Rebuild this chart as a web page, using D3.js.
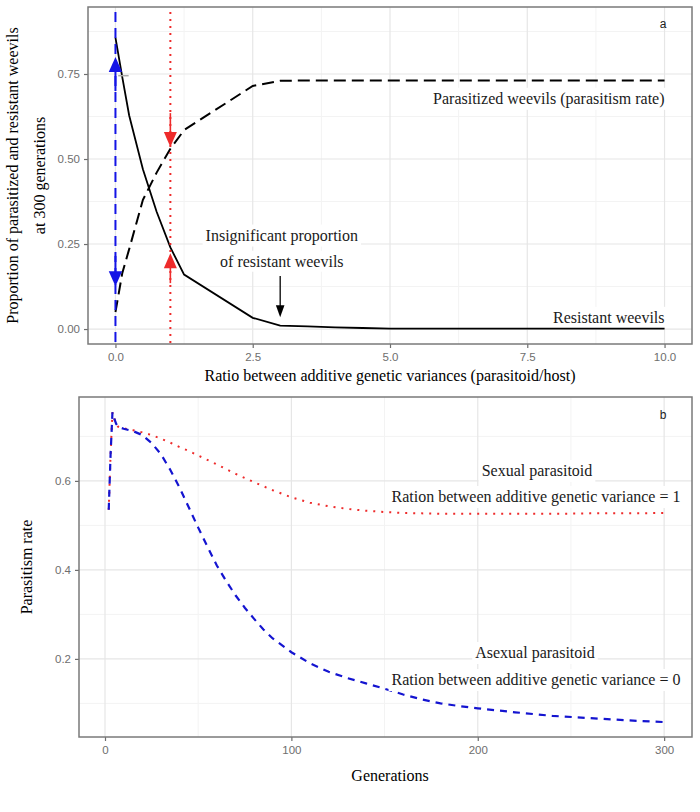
<!DOCTYPE html>
<html><head><meta charset="utf-8">
<script src="https://cdn.jsdelivr.net/npm/d3@7"></script>
<style>
body{margin:0;background:#fff;}
svg{display:block;}
</style></head>
<body>
<svg id="chart" width="700" height="812"></svg>
<script>
// ---------- Panel a data ----------
const ratioX = [0, 0.125, 0.25, 0.5, 0.75, 1, 1.25, 2.5, 3, 3.5, 4, 4.5, 5, 6, 7, 8, 9, 10];
const resistant = [0.857, 0.74, 0.628, 0.47, 0.345, 0.24, 0.16, 0.033, 0.01, 0.008, 0.005, 0.003, 0.001, 0.001, 0.001, 0.001, 0.001, 0.001];
const parasitized = [0.05, 0.165, 0.235, 0.38, 0.46, 0.53, 0.585, 0.715, 0.73, 0.731, 0.731, 0.731, 0.731, 0.731, 0.731, 0.731, 0.731, 0.731];
const aXTicks = [0, 2.5, 5, 7.5, 10];
const aXTickLabels = ["0.0", "2.5", "5.0", "7.5", "10.0"];
const aYTicks = [0, 0.25, 0.5, 0.75];
const aYTickLabels = ["0.00", "0.25", "0.50", "0.75"];
const aVLines = [0, 1];
// arrows: [x, yFrom, yTo]
const blueArrows = [[0, 0.70, 0.80], [0, 0.215, 0.126]];
const redArrows = [[1, 0.635, 0.535], [1, 0.135, 0.223]];
const blackArrow = [3, 0.156, 0.035];

// ---------- Panel b data ----------
const gensSexual = [2, 3, 4, 5, 6, 7, 8, 10, 15, 20, 25, 30, 35, 40, 45, 50, 60, 70, 80, 90, 100, 110, 120, 130, 140, 150, 160, 170, 180, 200, 220, 240, 260, 280, 300];
const sexual = [0.535, 0.66, 0.754, 0.74, 0.728, 0.722, 0.72, 0.718, 0.714, 0.709, 0.703, 0.695, 0.686, 0.676, 0.667, 0.657, 0.637, 0.616, 0.597, 0.579, 0.563, 0.551, 0.543, 0.537, 0.533, 0.530, 0.528, 0.527, 0.526, 0.526, 0.526, 0.526, 0.527, 0.527, 0.528];
const gensAsexual = [2, 3, 4, 5, 6, 7, 8, 10, 15, 20, 25, 30, 35, 40, 45, 50, 55, 60, 65, 70, 75, 80, 85, 90, 100, 110, 120, 130, 140, 150, 160, 170, 180, 190, 200, 220, 240, 260, 280, 300];
const asexual = [0.535, 0.66, 0.754, 0.74, 0.728, 0.722, 0.72, 0.717, 0.712, 0.703, 0.685, 0.66, 0.625, 0.585, 0.54, 0.495, 0.452, 0.41, 0.375, 0.343, 0.315, 0.29, 0.266, 0.246, 0.215, 0.19, 0.171, 0.157, 0.145, 0.133, 0.12, 0.109, 0.1, 0.094, 0.089, 0.08, 0.072, 0.067, 0.062, 0.058];
const bXTicks = [0, 100, 200, 300];
const bYTicks = [0.2, 0.4, 0.6];
const bYTickLabels = ["0.2", "0.4", "0.6"];

const svg = d3.select("#chart");
const SERIF = "'Liberation Serif','Times New Roman',serif";
const SANS = "'Liberation Sans',Arial,sans-serif";
const tickCol = "#6e6e6e";
const borderCol = "#7a7a7a";
const FS = "16px";

function panel(cfg) {
  const g = svg.append("g");
  const x = d3.scaleLinear().domain(cfg.xDomain).range([cfg.left, cfg.right]);
  const y = d3.scaleLinear().domain(cfg.yDomain).range([cfg.bottom, cfg.top]);
  cfg.xMinor.forEach(v => g.append("line").attr("x1", x(v)).attr("x2", x(v)).attr("y1", cfg.top).attr("y2", cfg.bottom).attr("stroke", "#f3f3f3").attr("stroke-width", 1));
  cfg.yMinor.forEach(v => g.append("line").attr("y1", y(v)).attr("y2", y(v)).attr("x1", cfg.left).attr("x2", cfg.right).attr("stroke", "#f3f3f3").attr("stroke-width", 1));
  cfg.xTicks.forEach(v => g.append("line").attr("x1", x(v)).attr("x2", x(v)).attr("y1", cfg.top).attr("y2", cfg.bottom).attr("stroke", "#e6e6e6").attr("stroke-width", 1.2));
  cfg.yTicks.forEach(v => g.append("line").attr("y1", y(v)).attr("y2", y(v)).attr("x1", cfg.left).attr("x2", cfg.right).attr("stroke", "#e6e6e6").attr("stroke-width", 1.2));
  const xAxis = d3.axisBottom(x).tickValues(cfg.xTicks).tickSize(4).tickPadding(5).tickFormat((d, i) => cfg.xLabels[i]);
  const yAxis = d3.axisLeft(y).tickValues(cfg.yTicks).tickSize(4).tickPadding(4).tickFormat((d, i) => cfg.yLabels[i]);
  const gx = g.append("g").attr("transform", `translate(0,${cfg.bottom})`).call(xAxis);
  const gy = g.append("g").attr("transform", `translate(${cfg.left},0)`).call(yAxis);
  [gx, gy].forEach(a => {
    a.select(".domain").remove();
    a.selectAll(".tick line").attr("stroke", tickCol).attr("stroke-width", 1.2);
    a.selectAll(".tick text").attr("fill", tickCol).style("font-family", SANS).style("font-size", "11.5px");
  });
  return {g, x, y};
}

// ===== Panel a =====
const A = panel({
  left: 88, right: 692, top: 7, bottom: 344,
  xDomain: [-0.5, 10.5], yDomain: [-0.044, 0.947],
  xTicks: aXTicks, xLabels: aXTickLabels, xMinor: [1.25, 3.75, 6.25, 8.75],
  yTicks: aYTicks, yLabels: aYTickLabels, yMinor: [0.125, 0.375, 0.625, 0.875]
});
{
  const {g, x, y} = A;
  const line = d3.line().x(d => x(d[0])).y(d => y(d[1]));
  function label(txt, px, py, anchor) {
    const t = g.append("text").attr("x", px).attr("y", py).attr("text-anchor", anchor)
      .style("font-family", SERIF).style("font-size", FS).attr("fill", "#1a1a1a").text(txt);
    const bb = t.node().getBBox();
    g.insert("rect", function(){ return t.node(); }).attr("x", bb.x - 3).attr("y", bb.y - 2).attr("width", bb.width + 6).attr("height", bb.height + 4).attr("fill", "#fff");
  }
  label("Insignificant proportion", x(3.03), y(0.272) + 4, "middle");
  label("of resistant weevils", x(3.03), y(0.195) + 4, "middle");
  label("Parasitized weevils (parasitism rate)", x(10), y(0.677) + 5, "end");
  label("Resistant weevils", x(10), y(0.03) + 4, "end");

  g.append("path").datum(ratioX.map((v, i) => [v, parasitized[i]])).attr("d", line)
    .attr("fill", "none").attr("stroke", "#000").attr("stroke-width", 2).attr("stroke-dasharray", "12,6");
  g.append("path").datum(ratioX.map((v, i) => [v, resistant[i]])).attr("d", line)
    .attr("fill", "none").attr("stroke", "#000").attr("stroke-width", 1.8);

  g.append("line").attr("x1", x(aVLines[0])).attr("x2", x(aVLines[0])).attr("y1", 12).attr("y2", 347)
    .attr("stroke", "#1414e6").attr("stroke-width", 2).attr("stroke-dasharray", "10,6");
  g.append("line").attr("x1", x(aVLines[1])).attr("x2", x(aVLines[1])).attr("y1", 12).attr("y2", 347)
    .attr("stroke", "#ee2b2b").attr("stroke-width", 2).attr("stroke-dasharray", "2,5");

  function arrow(a, col, len, hw, sw) {
    const px = x(a[0]), y0 = y(a[1]), y1 = y(a[2]);
    const dir = y1 > y0 ? 1 : -1;
    g.append("line").attr("x1", px).attr("x2", px).attr("y1", y0).attr("y2", y1 - dir * len * 0.5)
      .attr("stroke", col).attr("stroke-width", sw);
    g.append("path").attr("d", `M${px},${y1} L${px - hw},${y1 - dir * len} L${px + hw},${y1 - dir * len} Z`).attr("fill", col);
  }
  blueArrows.forEach(a => arrow(a, "#1414e6", 15, 6.7, 2));
  redArrows.forEach(a => arrow(a, "#ee2b2b", 15, 6.5, 1.6));
  arrow(blackArrow, "#000", 12, 4.3, 1.3);

  g.append("line").attr("x1", x(0.05)).attr("x2", x(0.24)).attr("y1", y(0.745)).attr("y2", y(0.745)).attr("stroke", "#aaa").attr("stroke-width", 1.5);

  g.append("text").attr("x", 663).attr("y", 28).attr("text-anchor", "middle").style("font-family", SANS).style("font-size", "12px").attr("fill", "#222").text("a");

  g.append("rect").attr("x", 88).attr("y", 7).attr("width", 604).attr("height", 337).attr("fill", "none").attr("stroke", borderCol).attr("stroke-width", 1.5);

  g.append("text").attr("x", 390).attr("y", 381).attr("text-anchor", "middle").style("font-family", SERIF).style("font-size", FS).attr("fill", "#000")
    .text("Ratio between additive genetic variances (parasitoid/host)");
  g.append("text").attr("transform", "translate(18,175.5) rotate(-90)").attr("text-anchor", "middle").style("font-family", SERIF).style("font-size", FS).attr("fill", "#000")
    .text("Proportion of parasitized and resistant weevils");
  g.append("text").attr("transform", "translate(45,175.5) rotate(-90)").attr("text-anchor", "middle").style("font-family", SERIF).style("font-size", FS).attr("fill", "#000")
    .text("at 300 generations");
}

// ===== Panel b =====
const B = panel({
  left: 79, right: 692, top: 397, bottom: 737,
  xDomain: [1 - 14.95, 300 + 14.95], yDomain: [0.0245, 0.7885],
  xTicks: bXTicks, xLabels: bXTicks.map(String), xMinor: [50, 150, 250],
  yTicks: bYTicks, yLabels: bYTickLabels, yMinor: [0.1, 0.3, 0.5, 0.7]
});
{
  const {g, x, y} = B;
  const line = d3.line().x(d => x(d[0])).y(d => y(d[1]));
  function label(txt, px, py) {
    const t = g.append("text").attr("x", px).attr("y", py).attr("text-anchor", "middle")
      .style("font-family", SERIF).style("font-size", FS).attr("fill", "#1a1a1a").text(txt);
    const bb = t.node().getBBox();
    g.insert("rect", function(){ return t.node(); }).attr("x", bb.x - 3).attr("y", bb.y - 2).attr("width", bb.width + 6).attr("height", bb.height + 4).attr("fill", "#fff");
  }
  g.append("path").datum(gensSexual.map((v, i) => [v, sexual[i]])).attr("d", line)
    .attr("fill", "none").attr("stroke", "#ee2b2b").attr("stroke-width", 2).attr("stroke-dasharray", "2,6");
  g.append("path").datum(gensAsexual.map((v, i) => [v, asexual[i]])).attr("d", line)
    .attr("fill", "none").attr("stroke", "#1414d0").attr("stroke-width", 2.2).attr("stroke-dasharray", "7,6");

  label("Sexual parasitoid", 537, 476);
  label("Ration between additive genetic variance = 1", 536, 502);
  label("Asexual parasitoid", 535, 658);
  label("Ration between additive genetic variance = 0", 536, 685);

  g.append("text").attr("x", 663).attr("y", 419).attr("text-anchor", "middle").style("font-family", SANS).style("font-size", "12px").attr("fill", "#222").text("b");

  g.append("rect").attr("x", 79).attr("y", 397).attr("width", 613).attr("height", 340).attr("fill", "none").attr("stroke", borderCol).attr("stroke-width", 1.5);

  g.append("text").attr("x", 390).attr("y", 781).attr("text-anchor", "middle").style("font-family", SERIF).style("font-size", FS).attr("fill", "#000").text("Generations");
  g.append("text").attr("transform", "translate(32,567) rotate(-90)").attr("text-anchor", "middle").style("font-family", SERIF).style("font-size", FS).attr("fill", "#000").text("Parasitism rate");
}
</script>
</body></html>
